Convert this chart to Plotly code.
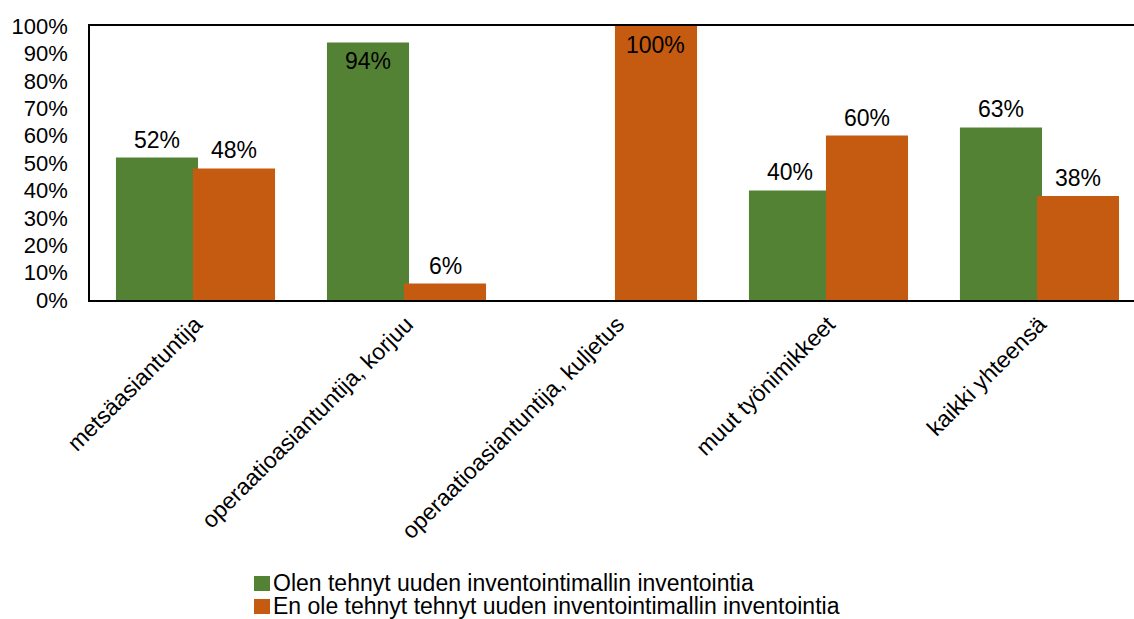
import plotly.graph_objects as go

# Survey result: share of respondents per job group
categories = [
    "metsäasiantuntija",
    "operaatioasiantuntija, korjuu",
    "operaatioasiantuntija, kuljetus",
    "muut työnimikkeet",
    "kaikki yhteensä",
]
done_pct = [52, 94, 0, 40, 63]
not_done_pct = [48, 6, 100, 60, 38]
series_names = [
    "Olen tehnyt uuden inventointimallin inventointia",
    "En ole tehnyt tehnyt uuden inventointimallin inventointia",
]
y_ticks = list(range(0, 101, 10))

GREEN = "#548235"
ORANGE = "#C55A11"
FONT = "Liberation Sans, Arial, sans-serif"

W, H = 1134, 619
ML, MR, MT, MB = 90, 0, 26, 319
plot_w = W - ML - MR
plot_h = H - MT - MB

BAR_W = 0.389
OFFSETS = [-0.377, -0.012]   # left edge of each series' bar within a category


def px_x(x):
    return (x - ML) / plot_w


def px_y(y):
    return (H - MB - y) / plot_h


fig = go.Figure()
annotations = []
xs = list(range(len(categories)))
for vals, name, color, off in [(done_pct, series_names[0], GREEN, OFFSETS[0]),
                               (not_done_pct, series_names[1], ORANGE, OFFSETS[1])]:
    fig.add_trace(go.Bar(
        x=xs, y=vals, name=name,
        marker=dict(color=color, line=dict(width=0)),
        offset=off, width=BAR_W, showlegend=False,
    ))
    # value labels: above the bar, or just inside its top when near 100 %
    for i, v in zip(xs, vals):
        if v <= 0:
            continue
        near_top = v >= 90
        annotations.append(dict(
            x=i + off + BAR_W / 2, y=v, xref="x", yref="y",
            text=f"{v}%", showarrow=False, borderpad=0,
            yanchor="top" if near_top else "bottom",
            yshift=-5 if near_top else 4,
            font=dict(family=FONT, size=23, color="black"),
        ))

# Legend drawn as colour squares with text beside them
legend_rows = [(GREEN, series_names[0], 576, 591, 583),
               (ORANGE, series_names[1], 599, 614, 606)]
shapes = []
for color, name, y0, y1, yc in legend_rows:
    shapes.append(dict(type="rect", xref="paper", yref="paper",
                       x0=px_x(254), x1=px_x(270), y0=px_y(y1), y1=px_y(y0),
                       fillcolor=color, line=dict(width=0)))
    annotations.append(dict(text=name, xref="paper", yref="paper",
                            x=px_x(272), y=px_y(yc), xanchor="left", yanchor="middle",
                            showarrow=False, borderpad=0,
                            font=dict(family=FONT, size=23, color="black")))

fig.update_layout(
    width=W, height=H,
    margin=dict(l=ML, r=MR, t=MT, b=MB, autoexpand=False),
    paper_bgcolor="white", plot_bgcolor="white",
    barmode="overlay",
    font=dict(family=FONT, size=22, color="black"),
    shapes=shapes, annotations=annotations,
    xaxis=dict(
        range=[-0.5, 4.448], tickmode="array",
        tickvals=xs, ticktext=categories,
        tickangle=-45, tickfont=dict(family=FONT, size=23, color="black"),
        showline=True, linecolor="black", linewidth=1.5, mirror=True,
        showgrid=False, zeroline=False, ticks="", automargin=False,
        layer="below traces",
    ),
    yaxis=dict(
        range=[0, 100], tickmode="array", tickvals=y_ticks,
        ticktext=[f"{t}%" for t in y_ticks],
        tickfont=dict(family=FONT, size=22, color="black"),
        showline=True, linecolor="black", linewidth=1.5,
        showgrid=False, zeroline=False, ticks="", automargin=False,
        ticklabelstandoff=16, layer="below traces",
    ),
)

fig.write_html("out.html")
